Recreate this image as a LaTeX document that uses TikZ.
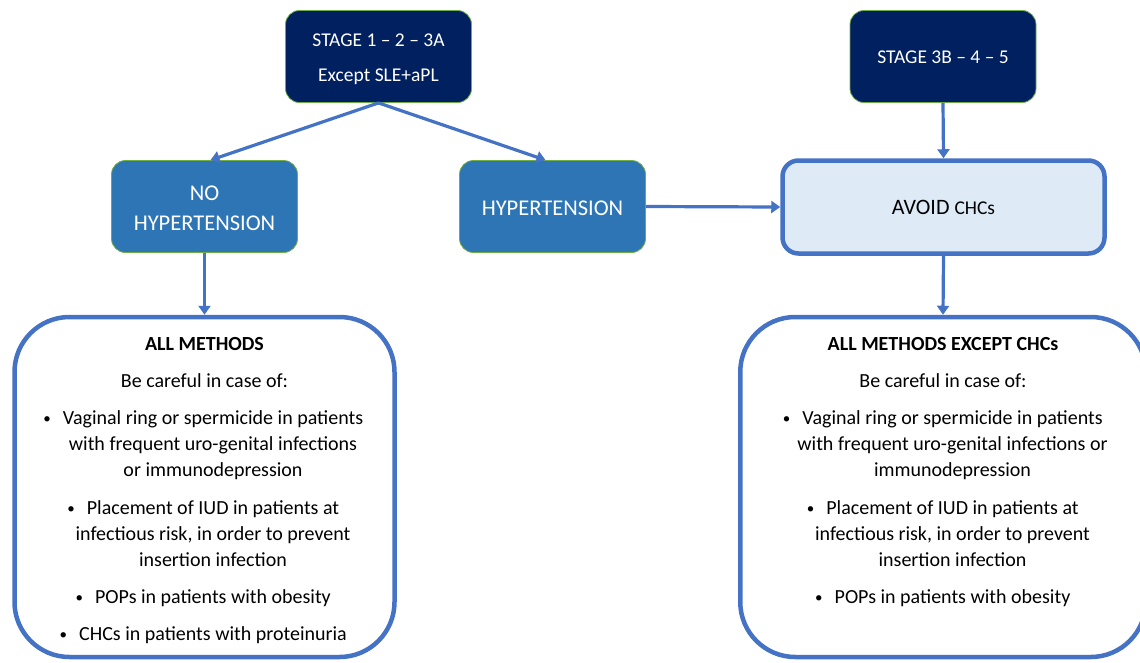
\documentclass[tikz,border=0pt]{standalone}
\usepackage{fontspec}
\setmainfont{Carlito}
\usetikzlibrary{arrows.meta, positioning}

\definecolor{navy}{HTML}{002060}
\definecolor{midblue}{HTML}{2E75B6}
\definecolor{linkblue}{HTML}{4472C4}
\definecolor{paleblue}{HTML}{DEEBF7}
\definecolor{edgegreen}{HTML}{70AD47}

\newcommand{\itemdot}{\llap{\raisebox{1pt}{\fontsize{15}{15}\selectfont\textbullet}\hspace{12pt}}}
\newcommand{\topfill}[1]{\rule{0pt}{#1}}

\tikzset{
  stagebox/.style={draw=edgegreen, line width=0.8pt, fill=navy, text=white, rounded corners=14pt,
    minimum width=186pt, minimum height=92pt, inner sep=0pt, align=center, font=\fontsize{19.5}{35}\selectfont},
  casebox/.style={draw=edgegreen, line width=0.8pt, fill=midblue, text=white, rounded corners=14pt,
    minimum width=186pt, minimum height=92pt, inner sep=0pt, align=center, font=\fontsize{22.5}{30}\selectfont},
  avoidbox/.style={draw=linkblue, line width=4.5pt, fill=paleblue, rounded corners=16pt,
    minimum width=322pt, minimum height=93pt, inner sep=0pt, align=center},
  methodbox/.style={draw=linkblue, line width=4.5pt, fill=white, rounded corners=55pt, inner sep=0pt,
    minimum height=340pt},
  headtext/.style={inner sep=0pt, align=center, font=\fontsize{20}{37.5}\selectfont},
  listtext/.style={inner sep=0pt, align=center, font=\fontsize{20}{26}\selectfont},
  link/.style={draw=linkblue, line width=3.2pt, -{Triangle[length=9pt,width=12pt]}}
}

\begin{document}
\begin{tikzpicture}[x=1pt, y=-1pt]
  \useasboundingbox (0,0) rectangle (1140,662);

  % top row
  \node [stagebox] (stagelow) at (378.5,56.5) {\topfill{18.6pt}STAGE 1 -- 2 -- 3A\\Except SLE+aPL};
  \node [stagebox] (stagehigh) at (943,56.5) {\topfill{14.6pt}STAGE 3B -- 4 -- 5};

  % middle row
  \node [casebox] (nohyp) at (204.5,206.5) {\topfill{18.5pt}NO\\HYPERTENSION};
  \node [casebox] (hyp) at (552.5,206.5) {\topfill{18.5pt}HYPERTENSION};
  \node [avoidbox] (avoid) at (943.5,207) {\fontsize{22}{26}\selectfont AVOID \fontsize{19.5}{26}\selectfont CHCs};

  % bottom row
  \node [methodbox, minimum width=380pt] (allbox) at (204.5,487) {};
  \node [methodbox, minimum width=405.5pt] (exceptbox) at (943,487) {};

  \node [headtext, below=22pt of allbox.north] (allhead) {\textbf{ALL METHODS}\\Be careful in case of:};
  \node [listtext, below=22.5pt of allhead, xshift=8.5pt] (alllist) {%
    \itemdot Vaginal ring or spermicide in patients\\
    with frequent uro-genital infections\\
    or immunodepression\\[11.5pt]
    \itemdot Placement of IUD in patients at\\
    infectious risk, in order to prevent\\
    insertion infection\\[11pt]
    \itemdot POPs in patients with obesity\\[11pt]
    \itemdot CHCs in patients with proteinuria};

  \node [headtext, below=22pt of exceptbox.north] (excepthead) {\textbf{ALL METHODS EXCEPT CHCs}\\Be careful in case of:};
  \node [listtext, below=22.5pt of excepthead, xshift=9.5pt] (exceptlist) {%
    \itemdot Vaginal ring or spermicide in patients\\
    with frequent uro-genital infections or\\
    immunodepression\\[11.5pt]
    \itemdot Placement of IUD in patients at\\
    infectious risk, in order to prevent\\
    insertion infection\\[11pt]
    \itemdot POPs in patients with obesity};

  % connectors
  \draw [link] (stagelow.south) -- ([xshift=6pt]nohyp.north);
  \draw [link] (stagelow.south) -- ([xshift=-7pt]hyp.north);
  \draw [link] (nohyp.south) -- (allbox.north);
  \draw [link] (hyp.east) -- (avoid.west);
  \draw [link] (stagehigh.south) -- (avoid.north);
  \draw [link] (avoid.south) -- (exceptbox.north);
\end{tikzpicture}
\end{document}
